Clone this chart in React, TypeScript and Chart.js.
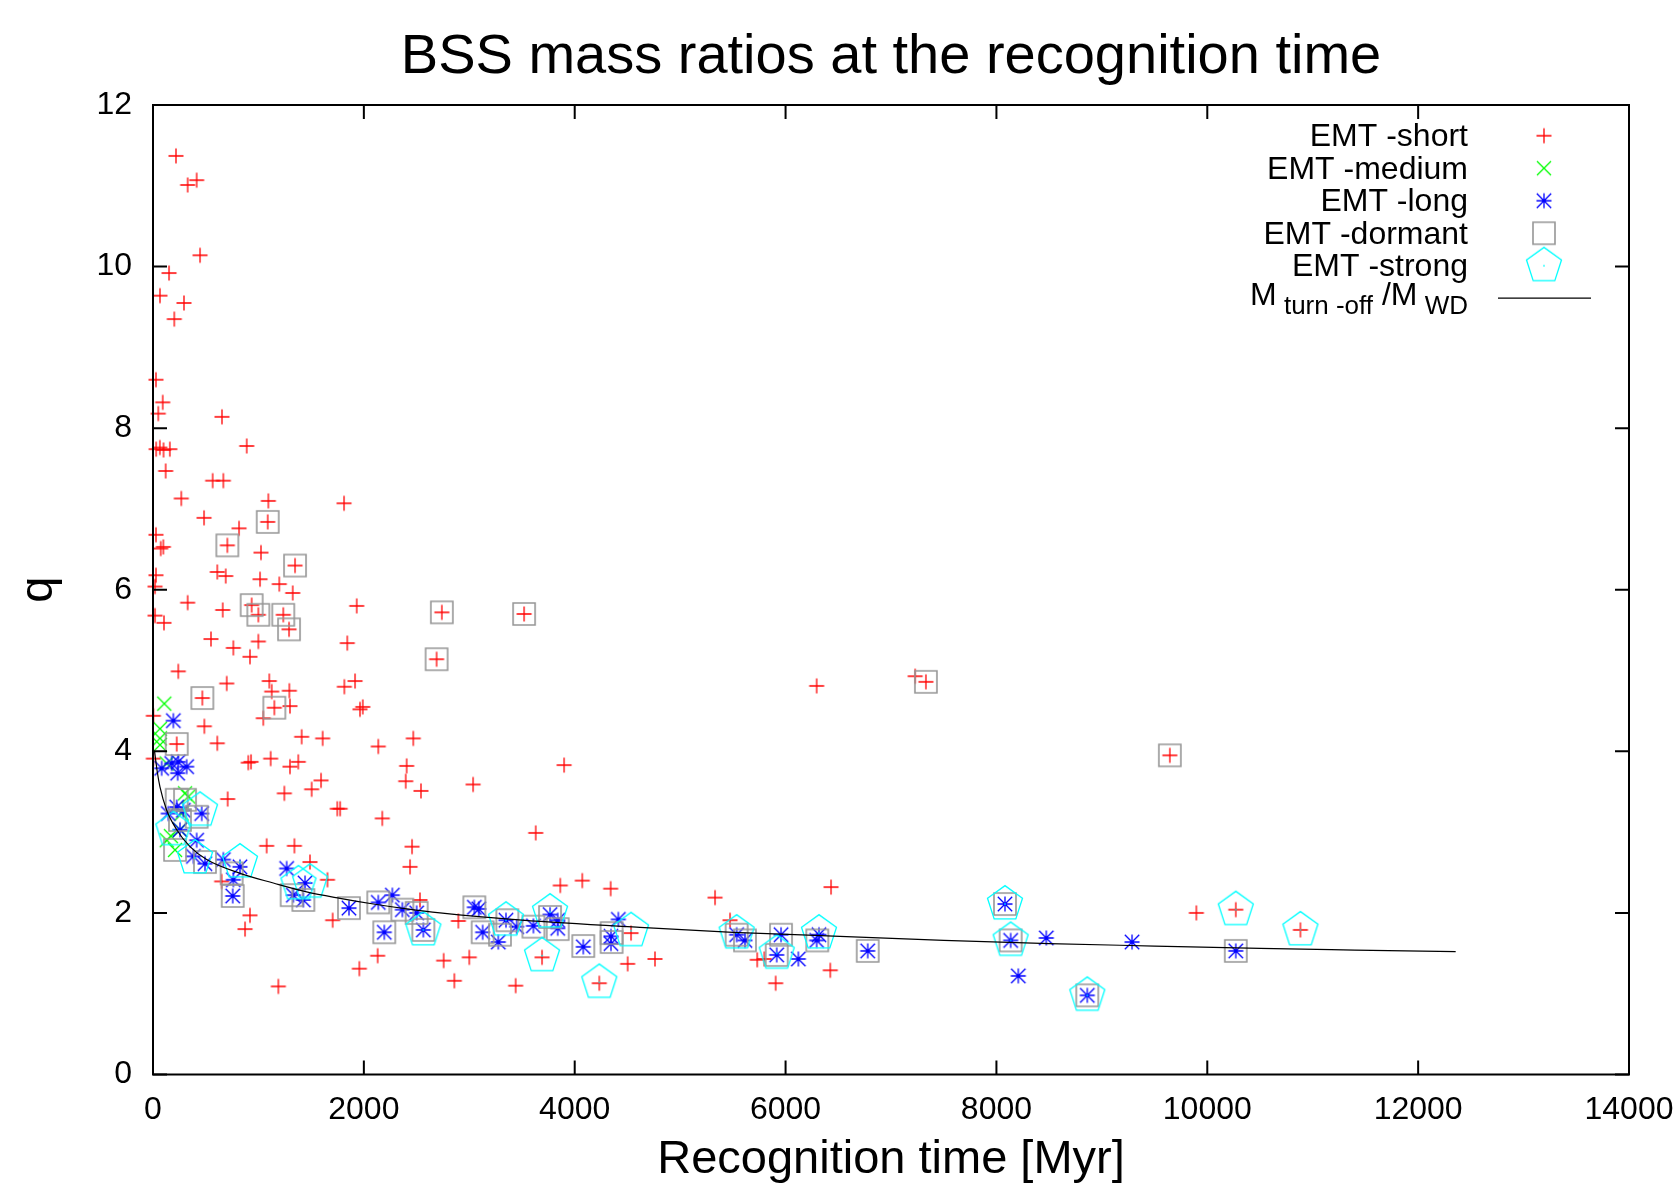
import React, { useEffect, useRef } from "react";
import { Chart, registerables } from "chart.js";

Chart.register(...registerables);

const FONT = "'Liberation Sans', Arial, Helvetica, sans-serif";
const TITLE = "BSS mass ratios at the recognition time";
const X_TITLE = "Recognition time [Myr]";
const Y_TITLE = "q";
const X_TICK_STEP = 2000;
const Y_TICK_STEP = 2;
const X_MAX = 14000;
const Y_MAX = 12;

const LABELS = ["EMT -short", "EMT -medium", "EMT -long", "EMT -dormant", "EMT -strong", "M turn-off/M WD"];

// EMT -short (red +)
const shortX = [
  218, 329, 414, 446, 152, 66, 294, 202, 28, 92,
  50, 654, 30, 65, 100, 160, 889, 120, 566, 667,
  268, 1094, 1812, 1088, 484, 816, 28, 98, 73, 705,
  1024, 1347, 610, 690, 28, 1015, 1198, 1325, 19, 329,
  19, 104, 661, 936, 999, 1236, 1290, 1932, 550, 762,
  999, 920, 1843, 2690, 240, 699, 1103, 1126, 1293, 1815,
  1916, 468, 1151, 1299, 1046, 1963, 1990, 3, 487, 225,
  610, 1410, 1609, 2137, 2469, 3, 904, 930, 1116, 1299,
  1378, 2406, 1505, 1594, 2397, 2542, 1246, 708, 1748, 1775,
  2175, 1078, 1341, 2457, 1489, 2438, 651, 1655, 920, 873,
  2532, 1704, 2131, 1957, 1189, 2757, 2740, 3520, 7229, 7331,
  6295, 9645, 3899, 3036, 3630, 3863, 4072, 4341, 5331, 6431,
  2896, 5473, 4534, 3000, 2858, 3690, 3440, 4233, 4502, 4761,
  5731, 5798, 5906, 6424, 9896, 10270, 10883,
];
const shortY = [
  11.37, 11.01, 11.07, 10.14, 9.92, 9.64, 9.55, 9.35, 8.6, 8.32,
  8.18, 8.14, 7.74, 7.76, 7.73, 7.74, 7.78, 7.47, 7.35, 7.35,
  7.13, 7.1, 7.07, 6.84, 6.89, 6.76, 6.68, 6.53, 6.51, 6.55,
  6.46, 6.3, 6.22, 6.17, 6.18, 6.13, 6.07, 5.96, 6.04, 5.84,
  5.68, 5.59, 5.75, 5.81, 5.69, 5.69, 5.51, 5.8, 5.39, 5.28,
  5.36, 5.17, 5.34, 5.14, 4.99, 4.84, 4.87, 4.74, 4.75, 4.8,
  4.87, 4.66, 4.54, 4.56, 4.41, 4.52, 4.55, 4.44, 4.31, 4.09,
  4.1, 4.18, 4.16, 4.06, 4.16, 3.91, 3.86, 3.87, 3.91, 3.81,
  3.87, 3.82, 3.53, 3.64, 3.63, 3.51, 3.48, 3.41, 3.29, 3.29,
  3.17, 2.83, 2.83, 2.82, 2.63, 2.57, 2.39, 2.41, 1.97, 1.8,
  2.16, 1.91, 1.47, 1.31, 1.09, 1.41, 5.72, 5.7, 4.93, 4.86,
  4.81, 3.95, 3.83, 3.59, 2.99, 2.34, 2.4, 2.3, 2.19, 2.32,
  1.9, 1.91, 1.75, 1.45, 1.16, 1.45, 1.1, 1.13, 1.37, 1.43,
  1.42, 1.43, 1.13, 1.29, 2.0, 2.04, 1.79,
];

// EMT -medium (green x)
const mediumX = [107, 66, 66, 66, 130, 304, 335, 272, 256, 130, 209, 170];
const mediumY = [4.59, 4.28, 4.16, 4.08, 3.85, 3.48, 3.44, 3.23, 3.03, 2.9, 2.78, 2.95];

// EMT -long (blue asterisk)
const longX = [
  193, 240, 82, 234, 319, 177, 225, 462, 288, 145,
  256, 414, 383, 493, 667, 825, 762, 756, 1268, 1331,
  1426, 1442, 1859, 2137, 2270, 2365, 2501, 2194, 2564, 3048,
  3090, 3127, 3275, 3348, 3450, 3608, 3766, 3839, 3839, 4081,
  4414, 4344, 4344, 5536, 5615, 5957, 5916, 6121, 6317, 6295,
  6779, 8081, 8135, 8473, 8207, 8862, 9286, 10270,
];
const longY = [
  4.38, 3.87, 3.79, 3.73, 3.81, 3.85, 3.31, 3.23, 3.27, 3.23,
  3.03, 2.9, 2.7, 2.61, 2.66, 2.57, 2.41, 2.21, 2.55, 2.22,
  2.16, 2.37, 2.06, 2.13, 2.22, 2.04, 2.0, 1.76, 1.79, 2.07,
  2.05, 1.76, 1.64, 1.91, 1.83, 1.84, 1.98, 1.91, 1.81, 1.58,
  1.92, 1.71, 1.62, 1.73, 1.66, 1.73, 1.48, 1.43, 1.73, 1.66,
  1.53, 2.11, 1.66, 1.69, 1.22, 0.98, 1.64, 1.53,
];

// EMT -dormant (grey square)
const dormantX = [
  1088, 705, 1347, 936, 999, 1236, 1290, 2740, 3520, 2690,
  468, 1151, 225, 7331, 9645, 225, 304, 414, 256, 209,
  493, 746, 756, 1315, 1426, 1859, 2137, 2365, 2501, 2194,
  2564, 3048, 3127, 3291, 3361, 3608, 3766, 3839, 4081, 4350,
  4350, 5536, 5615, 5957, 5916, 6301, 6779, 8081, 8135, 8862,
  10270,
];
const dormantY = [
  6.84, 6.55, 6.3, 5.81, 5.69, 5.69, 5.51, 5.72, 5.7, 5.14,
  4.66, 4.54, 4.09, 4.86, 3.95, 3.4, 3.4, 3.19, 3.15, 2.78,
  2.63, 2.49, 2.21, 2.22, 2.16, 2.06, 2.13, 2.04, 2.0, 1.76,
  1.79, 2.07, 1.76, 1.73, 1.91, 1.83, 1.95, 1.8, 1.59, 1.64,
  1.75, 1.73, 1.66, 1.73, 1.48, 1.66, 1.53, 2.11, 1.66, 0.98,
  1.53,
];

// EMT -strong (cyan pentagon)
const strongX = [446, 193, 398, 825, 1380, 1490, 2564, 3348, 3766, 3690, 4233, 4534, 5536, 5916, 6317, 8081, 8135, 8862, 10270, 10883];
const strongY = [3.27, 3.03, 2.68, 2.63, 2.36, 2.38, 1.79, 1.91, 2.01, 1.47, 1.14, 1.78, 1.75, 1.5, 1.75, 2.11, 1.66, 0.98, 2.04, 1.79];

// M turn-off / M WD curve
const curveX = [15, 40, 66, 130, 225, 351, 509, 825, 1141, 1457, 1774, 2090, 2406, 2722, 3500, 4619, 5500, 6516, 7500, 8500, 9500, 10500, 11400, 12356];
const curveY = [4.0, 3.75, 3.56, 3.27, 3.03, 2.82, 2.66, 2.49, 2.37, 2.26, 2.18, 2.11, 2.05, 2.0, 1.91, 1.82, 1.76, 1.71, 1.66, 1.62, 1.59, 1.56, 1.54, 1.52];

function makeMarker(kind: string): HTMLCanvasElement {
  const size = kind === "pentagon" ? 42 : kind === "box" ? 28 : 20;
  const c = document.createElement("canvas");
  c.width = size;
  c.height = size;
  const g = c.getContext("2d") as CanvasRenderingContext2D;
  const m = size / 2;
  g.lineWidth = 1.3;
  g.beginPath();
  if (kind === "plus") {
    g.strokeStyle = "#ff0000";
    g.moveTo(m - 7.5, m); g.lineTo(m + 7.5, m);
    g.moveTo(m, m - 7.5); g.lineTo(m, m + 7.5);
  } else if (kind === "cross") {
    g.strokeStyle = "#00ff00";
    g.moveTo(m - 7, m - 7); g.lineTo(m + 7, m + 7);
    g.moveTo(m - 7, m + 7); g.lineTo(m + 7, m - 7);
  } else if (kind === "star") {
    g.strokeStyle = "#0000ff";
    g.moveTo(m - 7.5, m); g.lineTo(m + 7.5, m);
    g.moveTo(m, m - 7.5); g.lineTo(m, m + 7.5);
    g.moveTo(m - 7.2, m - 7.2); g.lineTo(m + 7.2, m + 7.2);
    g.moveTo(m - 7.2, m + 7.2); g.lineTo(m + 7.2, m - 7.2);
  } else if (kind === "box") {
    g.strokeStyle = "rgb(150,150,150)";
    g.lineWidth = 1.6;
    g.rect(m - 11, m - 11, 22, 22);
  } else {
    g.strokeStyle = "#00ffff";
    const R = 18.4;
    for (let k = 0; k < 5; k++) {
      const a = -Math.PI / 2 + (k * 2 * Math.PI) / 5;
      const px = m + R * Math.cos(a);
      const py = m + R * Math.sin(a);
      if (k === 0) g.moveTo(px, py); else g.lineTo(px, py);
    }
    g.closePath();
  }
  g.stroke();
  if (kind === "pentagon") {
    g.fillStyle = "#00ffff";
    g.fillRect(m - 0.75, m - 0.75, 1.5, 1.5);
  }
  return c;
}

const pts = (xs: number[], ys: number[]) => xs.map((x, i) => ({ x, y: ys[i] }));

const framePlugin = {
  id: "gnuFrame",
  afterDatasetsDraw(chart: any) {
    const { ctx, chartArea: a, scales } = chart;
    const xs = scales.x;
    const ys = scales.y;
    const len = 14;
    ctx.save();
    ctx.strokeStyle = "#000";
    ctx.lineWidth = 2;
    ctx.beginPath();
    xs.ticks.forEach((t: any) => {
      const p = xs.getPixelForValue(t.value);
      ctx.moveTo(p, a.bottom); ctx.lineTo(p, a.bottom - len);
      ctx.moveTo(p, a.top); ctx.lineTo(p, a.top + len);
    });
    ys.ticks.forEach((t: any) => {
      const p = ys.getPixelForValue(t.value);
      ctx.moveTo(a.left, p); ctx.lineTo(a.left + len, p);
      ctx.moveTo(a.right, p); ctx.lineTo(a.right - len, p);
    });
    ctx.stroke();
    ctx.strokeRect(a.left, a.top, a.right - a.left, a.bottom - a.top);
    ctx.restore();
  },
};

const legendPlugin = {
  id: "gnuLegend",
  afterDraw(chart: any) {
    const { ctx, chartArea: a } = chart;
    const textRight = a.right - 161;
    const markX = a.right - 85;
    const row0 = a.top + 30.7;
    const step = 32.5;
    ctx.save();
    ctx.fillStyle = "#000";
    ctx.textAlign = "right";
    ctx.textBaseline = "alphabetic";
    chart.data.datasets.forEach((ds: any, i: number) => {
      const cy = row0 + i * step;
      if (ds.showLine) {
        ctx.strokeStyle = "#000";
        ctx.lineWidth = 1.2;
        ctx.beginPath();
        ctx.moveTo(a.right - 131, cy);
        ctx.lineTo(a.right - 38, cy);
        ctx.stroke();
        const pieces: [string, number, number][] = [
          ["M", 32, 7],
          [" turn -off", 26, 16],
          [" /M", 32, 7],
          [" WD", 26, 16],
        ];
        let x = textRight;
        for (let k = pieces.length - 1; k >= 0; k--) {
          const [t, s, dy] = pieces[k];
          ctx.font = `${s}px ${FONT}`;
          ctx.fillText(t, x, cy + dy);
          x -= ctx.measureText(t).width;
        }
      } else {
        ctx.font = `32px ${FONT}`;
        ctx.fillText(ds.label, textRight, cy + 10.5);
        const img = ds.pointStyle as HTMLCanvasElement;
        ctx.drawImage(img, markX - img.width / 2, cy - img.height / 2);
      }
    });
    ctx.restore();
  },
};

export default function App() {
  const ref = useRef<HTMLCanvasElement>(null);
  useEffect(() => {
    const canvas = ref.current as HTMLCanvasElement;
    const scatterDs = (label: string, xs: number[], ys: number[], kind: string, order: number) => ({
      label,
      data: pts(xs, ys),
      pointStyle: makeMarker(kind),
      pointRadius: 5,
      showLine: false,
      clip: false as any,
      order,
    });
    const chart = new Chart(canvas, {
      type: "scatter",
      data: {
        datasets: [
          scatterDs(LABELS[0], shortX, shortY, "plus", 5),
          scatterDs(LABELS[1], mediumX, mediumY, "cross", 4),
          scatterDs(LABELS[2], longX, longY, "star", 3),
          scatterDs(LABELS[3], dormantX, dormantY, "box", 2),
          scatterDs(LABELS[4], strongX, strongY, "pentagon", 1),
          {
            label: LABELS[5],
            data: pts(curveX, curveY),
            showLine: true,
            borderColor: "#000",
            borderWidth: 1.2,
            pointRadius: 0,
            cubicInterpolationMode: "monotone",
            clip: false as any,
            order: 0,
          } as any,
        ],
      },
      options: {
        responsive: false,
        animation: false,
        devicePixelRatio: 1,
        events: [],
        layout: { padding: { left: 0, right: 49, top: 0, bottom: 0 } },
        plugins: {
          legend: { display: false },
          tooltip: { enabled: false },
          title: {
            display: true,
            text: TITLE,
            fullSize: false,
            color: "#000",
            font: { family: FONT, size: 56, weight: "normal", lineHeight: 1.2 },
            padding: { top: 24, bottom: 13.8 },
          },
        },
        scales: {
          x: {
            type: "linear",
            position: "bottom",
            min: 0,
            max: X_MAX,
            grid: { display: false, drawTicks: false },
            border: { display: false },
            ticks: {
              stepSize: X_TICK_STEP,
              padding: 16,
              color: "#000",
              maxRotation: 0,
              autoSkip: false,
              font: { family: FONT, size: 32 },
              callback: (v: any) => String(v),
            },
            title: {
              display: true,
              text: X_TITLE,
              color: "#000",
              font: { family: FONT, size: 47 },
              padding: { top: 0, bottom: 0 },
            },
            afterFit: (s: any) => {
              s.height = 113.5;
              s.paddingLeft = 0;
              s.paddingRight = 0;
            },
          },
          y: {
            type: "linear",
            position: "left",
            min: 0,
            max: Y_MAX,
            grid: { display: false, drawTicks: false },
            border: { display: false },
            ticks: {
              stepSize: Y_TICK_STEP,
              padding: 21,
              color: "#000",
              font: { family: FONT, size: 32 },
              callback: (v: any) => String(v),
            },
            title: {
              display: true,
              text: Y_TITLE,
              color: "#000",
              font: { family: FONT, size: 47 },
              padding: { top: 11, bottom: 0 },
            },
            afterFit: (s: any) => {
              s.width = 153;
              s.paddingTop = 0;
              s.paddingBottom = 0;
            },
          },
        } as any,
      },
      plugins: [framePlugin, legendPlugin],
    } as any);
    return () => chart.destroy();
  }, []);
  return (
    <div style={{ position: "absolute", left: 0, top: 0, width: 1678, height: 1188, background: "#fff" }}>
      <canvas ref={ref} width={1678} height={1188} style={{ display: "block", width: 1678, height: 1188 }} />
    </div>
  );
}
